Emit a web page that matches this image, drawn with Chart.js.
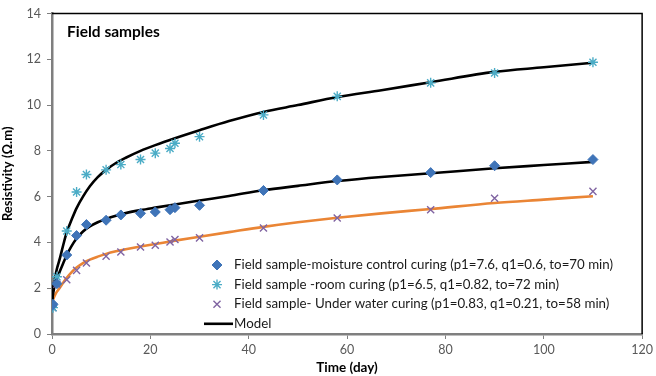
<!DOCTYPE html>
<html>
<head>
<meta charset="utf-8">
<script src="https://cdn.jsdelivr.net/npm/chart.js@4"></script>
<style>
  html, body { margin: 0; padding: 0; background: #fff; }
  #wrap { width: 656px; height: 376px; }
</style>
</head>
<body>
<div id="wrap"><canvas id="chart" width="656" height="376"></canvas></div>
<script>
'use strict';

// ── Data ───────────────────────────────────────────────────────────────────
const sampleDays   = [0, 0.2, 1, 3, 5, 7, 11, 14, 18, 21, 24, 25, 30, 43, 58, 77, 90, 110];
const moistureVals = [1.25, 1.3, 2.2, 3.45, 4.3, 4.78, 4.97, 5.2, 5.27, 5.33, 5.43, 5.52, 5.62, 6.27, 6.73, 7.05, 7.35, 7.62];
const roomVals     = [1.2, 1.15, 2.5, 4.5, 6.2, 6.97, 7.17, 7.4, 7.62, 7.9, 8.1, 8.33, 8.62, 9.57, 10.38, 10.97, 11.4, 11.87];
const waterVals    = [1.2, 1.15, 2.17, 2.37, 2.78, 3.1, 3.4, 3.58, 3.8, 3.88, 4.02, 4.13, 4.2, 4.63, 5.07, 5.43, 5.93, 6.23];

// model curves, sampled along the drawn lines
const modelDays     = [0, 0.1, 0.3, 0.6, 1, 1.6, 2.3, 3, 4, 5, 6.3, 7.7, 9.3, 11, 13, 15, 18, 21, 25, 30, 36, 43, 50, 58, 67, 77, 90, 100, 110];
const roomModel     = [1.2, 1.7, 2.1, 2.45, 2.85, 3.3, 3.9, 4.45, 5.0, 5.5, 6.0, 6.45, 6.85, 7.17, 7.47, 7.7, 8.0, 8.25, 8.55, 8.9, 9.3, 9.7, 10.0, 10.35, 10.65, 11.0, 11.45, 11.65, 11.85];
const moistureModel = [1.2, 1.55, 1.85, 2.15, 2.4, 2.74, 3.1, 3.45, 3.85, 4.17, 4.48, 4.7, 4.88, 5.03, 5.17, 5.28, 5.41, 5.52, 5.66, 5.83, 6.03, 6.28, 6.47, 6.68, 6.86, 7.02, 7.24, 7.38, 7.52];
const waterModel    = [1.2, 1.4, 1.55, 1.7, 1.85, 2.02, 2.25, 2.45, 2.7, 2.9, 3.1, 3.25, 3.38, 3.5, 3.61, 3.7, 3.82, 3.93, 4.08, 4.25, 4.45, 4.68, 4.88, 5.08, 5.27, 5.46, 5.72, 5.87, 6.02];

const xTicks = [0, 20, 40, 60, 80, 100, 120];
const yTicks = [0, 2, 4, 6, 8, 10, 12, 14];

const legendLabels = [
  'Field sample-moisture control curing (p1=7.6, q1=0.6, to=70 min)',
  'Field sample -room curing (p1=6.5, q1=0.82, to=72 min)',
  'Field sample- Under water curing (p1=0.83, q1=0.21, to=58 min)',
  'Model',
];

// ── Theme ──────────────────────────────────────────────────────────────────
const C = {
  diamond: '#3f74b8',
  star:    '#4bacc6',
  cross:   '#8064a2',
  orange:  '#ea8535',
  model:   '#000000',
  tick:    '#595959',
  axis:    '#7f7f7f',
};
const FONT = "Lato, 'Noto Sans', sans-serif";

const pts = (xs, ys) => xs.map((x, i) => ({ x, y: ys[i] }));

function markerSet(label, vals, style, color, radius, bw) {
  return {
    label, type: 'scatter', data: pts(sampleDays, vals), order: 1,
    pointStyle: style, pointRadius: radius, pointBorderWidth: bw,
    borderColor: color, backgroundColor: color, showLine: false,
  };
}
function modelSet(label, vals, color) {
  return {
    label, type: 'line', data: pts(modelDays, vals), order: 2,
    borderColor: color, borderWidth: 2.6, pointRadius: 0,
    cubicInterpolationMode: 'monotone', fill: false,
  };
}

// ── Frame, title and in-plot legend ────────────────────────────────────────
const decorPlugin = {
  id: 'decor',
  beforeDatasetsDraw(chart) {
    const { ctx, chartArea: a } = chart;
    ctx.save();
    ctx.strokeStyle = '#000';
    ctx.lineWidth = 1.5;
    ctx.beginPath();
    ctx.moveTo(a.left, a.top);
    ctx.lineTo(a.right, a.top);
    ctx.lineTo(a.right, a.bottom);
    ctx.stroke();
    ctx.restore();
  },
  afterDraw(chart) {
    const { ctx } = chart;
    const ds = chart.data.datasets;
    ctx.save();
    ctx.fillStyle = '#000';
    ctx.font = `bold 15.5px ${FONT}`;
    ctx.textBaseline = 'middle';
    ctx.fillText('Field samples', 67, 32);

    ctx.font = `13.3px ${FONT}`;
    const mx = 217, tx = 234, y0 = 265, dy = 19.6;
    for (let i = 0; i < 3; i++) {
      const d = ds[i];
      const y = y0 + i * dy;
      ctx.strokeStyle = d.borderColor;
      ctx.fillStyle = d.backgroundColor;
      ctx.lineWidth = d.pointBorderWidth;
      Chart.helpers.drawPoint(ctx, { pointStyle: d.pointStyle, radius: d.pointRadius, borderWidth: d.pointBorderWidth }, mx, y);
      ctx.fillStyle = '#1a1a1a';
      ctx.fillText(legendLabels[i], tx, y);
    }
    const ym = y0 + 3 * dy;
    ctx.strokeStyle = C.model;
    ctx.lineWidth = 2.6;
    ctx.beginPath();
    ctx.moveTo(204, ym);
    ctx.lineTo(233, ym);
    ctx.stroke();
    ctx.fillStyle = '#1a1a1a';
    ctx.fillText(legendLabels[3], tx, ym);
    ctx.restore();
  },
};

new Chart(document.getElementById('chart'), {
  type: 'scatter',
  data: {
    datasets: [
      markerSet(legendLabels[0], moistureVals, 'rectRot', C.diamond, 5, 1),
      markerSet(legendLabels[1], roomVals, 'star', C.star, 5, 1.4),
      markerSet(legendLabels[2], waterVals, 'crossRot', C.cross, 5, 1.4),
      modelSet('Model room', roomModel, C.model),
      modelSet('Model moisture', moistureModel, C.model),
      modelSet('Model water', waterModel, C.orange),
    ],
  },
  options: {
    responsive: false,
    animation: false,
    layout: { padding: { top: 12, right: 10, left: 0, bottom: 0 } },
    plugins: { legend: { display: false }, tooltip: { enabled: false } },
    scales: {
      x: {
        type: 'linear', min: 0, max: 120,
        afterBuildTicks: s => { s.ticks = xTicks.map(v => ({ value: v })); },
        afterFit: s => { s.height = 42; },
        grid: { drawOnChartArea: false, drawTicks: true, tickLength: 5, color: C.axis, lineWidth: 1 },
        border: { color: C.axis, width: 2.5 },
        ticks: { color: C.tick, font: { family: FONT, size: 12.5 }, padding: 3, maxRotation: 0 },
        title: { display: true, text: 'Time (day)', color: '#000', font: { family: FONT, size: 13.5, weight: 'bold' }, padding: { top: 0, bottom: 0 } },
      },
      y: {
        type: 'linear', min: 0, max: 14,
        afterBuildTicks: s => { s.ticks = yTicks.map(v => ({ value: v })); },
        afterFit: s => { s.width = 52; },
        grid: { drawOnChartArea: false, drawTicks: true, tickLength: 5, color: C.axis, lineWidth: 1 },
        border: { color: C.axis, width: 2.5 },
        ticks: { color: C.tick, font: { family: FONT, size: 12.5 }, padding: 6 },
        title: { display: true, text: 'Resistivity (Ω.m)', color: '#000', font: { family: FONT, size: 13, weight: 'bold' }, padding: { top: 0, bottom: 2 } },
      },
    },
  },
  plugins: [decorPlugin],
});
</script>
</body>
</html>
